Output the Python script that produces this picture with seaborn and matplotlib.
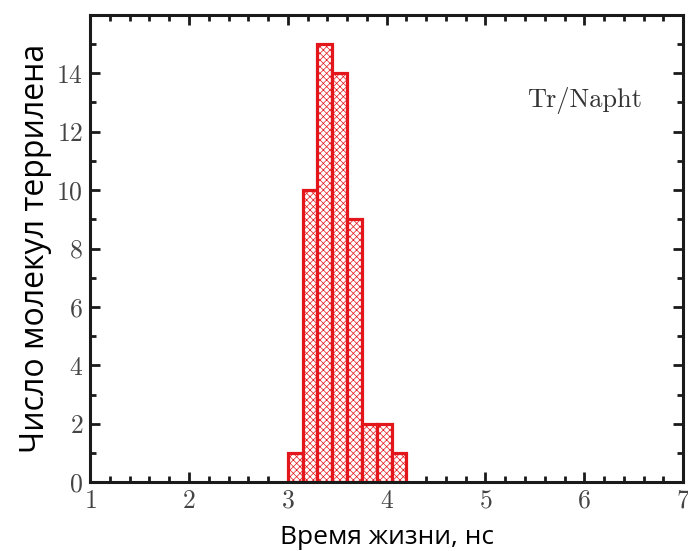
import matplotlib
matplotlib.use("Agg")
import matplotlib.pyplot as plt
import seaborn as sns
import numpy as np
from matplotlib.ticker import MultipleLocator

# Data
bin_edges = [3.0, 3.15, 3.3, 3.45, 3.6, 3.75, 3.9, 4.05, 4.2]
counts = [1, 10, 15, 14, 9, 2, 2, 1]
x_ticks = [1, 2, 3, 4, 5, 6, 7]
y_ticks = [0, 2, 4, 6, 8, 10, 12, 14]
label_text = "Tr/Napht"
xlabel = "Время жизни, нс"
ylabel = "Число молекул террилена"

centers = [(a + b) / 2 for a, b in zip(bin_edges[:-1], bin_edges[1:])]

sns.set_style("ticks")
plt.rcParams["hatch.linewidth"] = 0.5
plt.rcParams["axes.formatter.use_mathtext"] = True

fig = plt.figure(figsize=(6.88, 5.51), dpi=100)
ax = fig.add_axes([0.131, 0.125, 0.862, 0.848])

red = "#e3161c"
sns.histplot(x=centers, weights=counts, bins=bin_edges, ax=ax,
             color="white", edgecolor=red, linewidth=2.3, alpha=1)
for p in ax.patches:
    p.set_hatch("xxxxx")
    p.set_facecolor("white")
    p.set_edgecolor(red)

ax.set_xlim(1, 7)
ax.set_ylim(0, 16)
ax.set_xticks(x_ticks)
ax.set_yticks(y_ticks)
ax.xaxis.set_minor_locator(MultipleLocator(0.2))
ax.yaxis.set_minor_locator(MultipleLocator(1))
ax.tick_params(which="both", direction="in", top=True, right=True,
               width=2.0, color="#1a1a1a")
ax.tick_params(which="major", length=7.5, labelsize=18.5, labelcolor="#444444", pad=5)
ax.tick_params(which="minor", length=4.5)
for lbl in ax.get_xticklabels() + ax.get_yticklabels():
    lbl.set_fontfamily("cmr10")
for s in ax.spines.values():
    s.set_linewidth(2.2)
    s.set_color("#1a1a1a")

ax.text(0.931, 0.816, label_text, transform=ax.transAxes, ha="right", va="center",
        fontsize=19, family="cmr10", color="#333333")

ax.set_xlabel(xlabel, fontsize=19, family="Open Sans", labelpad=9, color="black")
ax.set_ylabel(ylabel, fontsize=23, family="Open Sans", labelpad=3, color="black")

fig.savefig("out.png", dpi=100)
